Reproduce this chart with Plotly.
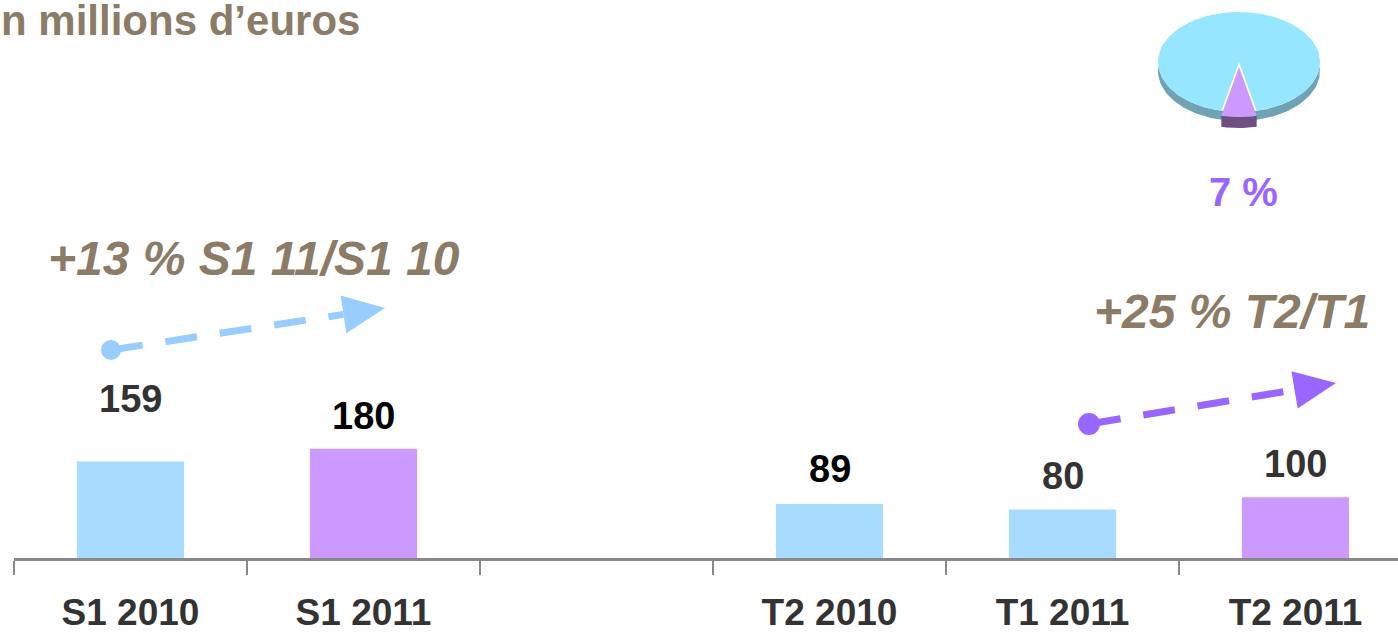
import math
import plotly.graph_objects as go

# ---------------- data ----------------
categories = ["S1 2010", "S1 2011", " ", "T2 2010", "T1 2011", "T2 2011"]
values = [159, 180, None, 89, 80, 100]
bar_colors = ["#A8DCFF", "#CC99FF", "#FFFFFF", "#A8DCFF", "#A8DCFF", "#CC99FF"]
label_colors = ["#333333", "#000000", "#000000", "#000000", "#333333", "#333333"]
label_offsets = [62, 33, 0, 35, 33, 33]  # px above bar top (style)
growth_labels = ["+13 % S1 11/S1 10", "+25 % T2/T1"]
pie_shares = [93, 7]
pie_label = "7 %"
title_text = "En millions d\u2019euros"

# ---------------- geometry helpers ----------------
W, H = 1398, 633
L, B = 14, 75
PW, PH = W - L, H - B


def px(x):
    return (x - L) / PW


def py(y):
    return (PH - y) / PH


BROWN = "#8C7B66"
BLUE_ARROW = "#99CCFF"
PURPLE_ARROW = "#9966FF"
SANS = "Liberation Sans, Arial, sans-serif"

fig = go.Figure()

fig.add_trace(go.Bar(
    x=categories, y=values,
    marker=dict(color=bar_colors, line=dict(width=0)),
    hoverinfo="skip", showlegend=False,
))

annotations = []
for c, v, col, off in zip(categories, values, label_colors, label_offsets):
    if v is None:
        continue
    annotations.append(dict(
        x=c, y=v, xref="x", yref="y", text=str(v), showarrow=False,
        yanchor="middle", yshift=off,
        font=dict(family=SANS, size=38, color=col, weight="bold"),
    ))

# title
annotations.append(dict(
    x=px(362), y=py(20), xref="paper", yref="paper", text=title_text,
    showarrow=False, xanchor="right", yanchor="middle",
    font=dict(family=SANS, size=42, color=BROWN, weight="bold"),
))
# growth labels
for txt, (cx, cy) in zip(growth_labels, [(254, 258), (1232, 311)]):
    annotations.append(dict(
        x=px(cx), y=py(cy), xref="paper", yref="paper", text=txt,
        showarrow=False, xanchor="center", yanchor="middle",
        font=dict(family=SANS, size=48, color=BROWN, weight="bold", style="italic"),
    ))
# pie label
annotations.append(dict(
    x=px(1243), y=py(192), xref="paper", yref="paper", text=pie_label,
    showarrow=False, xanchor="center", yanchor="middle",
    font=dict(family=SANS, size=40, color=PURPLE_ARROW, weight="bold"),
))

# ---------------- arrows (decorations) ----------------
shapes = []


def add_arrow(S, T, color, r=10, head_len=42, head_w=38, lw=7):
    dx, dy = T[0] - S[0], T[1] - S[1]
    d = math.hypot(dx, dy)
    ux, uy = dx / d, dy / d
    nx, ny = -uy, ux
    bx, by = T[0] - head_len * ux, T[1] - head_len * uy
    shapes.append(dict(type="line", xref="paper", yref="paper",
                       x0=px(S[0]), y0=py(S[1]), x1=px(bx), y1=py(by),
                       line=dict(color=color, width=lw, dash="32px,23px")))
    shapes.append(dict(type="circle", xref="paper", yref="paper",
                       x0=px(S[0] - r), x1=px(S[0] + r), y0=py(S[1] + r), y1=py(S[1] - r),
                       fillcolor=color, line=dict(width=0)))
    p1 = (bx + head_w / 2 * nx, by + head_w / 2 * ny)
    p2 = (bx - head_w / 2 * nx, by - head_w / 2 * ny)
    path = "M{},{} L{},{} L{},{} Z".format(px(T[0]), py(T[1]), px(p1[0]), py(p1[1]), px(p2[0]), py(p2[1]))
    shapes.append(dict(type="path", xref="paper", yref="paper", path=path,
                       fillcolor=color, line=dict(width=0)))


add_arrow((111, 350), (385, 308), BLUE_ARROW)
add_arrow((1089, 424), (1336, 383), PURPLE_ARROW, r=11)

# ---------------- 3D-looking pie from shares ----------------
cx, cy, rx, ry, depth, explode = 1239, 62, 81, 50, 9, 5
half = pie_shares[1] / sum(pie_shares) * 180.0
a0, a1 = -90 - half, -90 + half


def arc(t0, t1, n=80, dy=0.0):
    pts = []
    for i in range(n + 1):
        t = math.radians(t0 + (t1 - t0) * i / n)
        pts.append((rx * math.cos(t), ry * math.sin(t) + dy))
    return pts


def poly_trace(pts, color):
    xs = [p[0] for p in pts] + [pts[0][0]]
    ys = [p[1] for p in pts] + [pts[0][1]]
    return go.Scatter(x=xs, y=ys, xaxis="x2", yaxis="y2", mode="lines",
                      fill="toself", fillcolor=color, line=dict(width=0, color=color),
                      hoverinfo="skip", showlegend=False)


# blue side band
top = arc(180, 360)
bot = arc(360, 180, dy=-depth)
fig.add_trace(poly_trace(top + bot, "#6FA3B3"))
# blue top face
fig.add_trace(poly_trace([(0, 0)] + arc(a1, 270 - half), "#96E6FF"))
# purple side
ptop = arc(a0, a1, n=20, dy=-explode)
pbot = arc(a1, a0, n=20, dy=-explode - depth - 2)
fig.add_trace(poly_trace(ptop + pbot, "#6E4F80"))
# purple top face
fig.add_trace(poly_trace([(0, -explode)] + arc(a0, a1, n=20, dy=-explode), "#CC99FF"))

fig.update_layout(
    width=W, height=H,
    margin=dict(l=L, r=0, t=0, b=B, autoexpand=False),
    paper_bgcolor="white", plot_bgcolor="white",
    bargap=0.54,
    showlegend=False,
    annotations=annotations,
    shapes=shapes,
    xaxis=dict(
        type="category", categoryorder="array", categoryarray=categories,
        range=[-0.5, -0.5 + PW / 233.0],
        tickson="boundaries", ticks="outside", ticklen=14, tickwidth=2, tickcolor="#888888",
        showline=True, linecolor="#888888", linewidth=3,
        showgrid=False, zeroline=False, fixedrange=True, automargin=False,
        tickfont=dict(family=SANS, size=37, color="#333333", weight="bold"),
        ticklabelstandoff=20,
    ),
    yaxis=dict(range=[0, PH / 0.607], visible=False, fixedrange=True, automargin=False),
    xaxis2=dict(domain=[px(1140), px(1340)], range=[1140 - cx, 1340 - cx],
                visible=False, fixedrange=True, anchor="y2"),
    yaxis2=dict(domain=[py(150), py(0)], range=[-(150 - cy), cy],
                visible=False, fixedrange=True, anchor="x2"),
)

fig.write_html(
    "out.html",
    config={"displayModeBar": False},
    post_script="document.body.style.margin='0px';document.body.style.overflow='hidden';",
)
